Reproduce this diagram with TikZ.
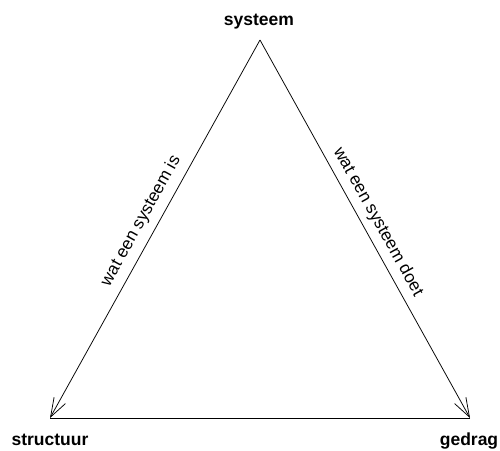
\documentclass[tikz,border=0pt]{standalone}
\usepackage{fontspec}
\setmainfont{Liberation Sans}
\usetikzlibrary{arrows.meta}
\begin{document}
\begin{tikzpicture}[x=1pt,y=-1pt,
  vlabel/.style={font=\fontsize{17.5}{20}\selectfont\bfseries, inner sep=0pt, anchor=base},
  elabel/.style={font=\fontsize{17.2}{20}\selectfont, inner sep=0pt},
  side/.style={line width=0.75pt},
  arr/.style={side, -{Straight Barb[length=19pt,width=13pt,line width=0.75pt]}}]
\useasboundingbox (0,0) rectangle (500,450);
\coordinate (top) at (260,40);
\coordinate (bl) at (50,418);
\coordinate (br) at (470,418);
\node[vlabel] (sys) at (259,25) {systeem};
\node[vlabel] (str) at (50,445) {structuur};
\node[vlabel] (ged) at (469,445) {gedrag};
\draw[arr] (top) -- (bl);
\draw[arr] (top) -- (br);
\draw[side] (bl) -- (br);
\node[elabel, rotate=60.9] (is) at (141,221) {wat een systeem is};
\node[elabel, rotate=-60.9] (doet) at (378,222) {wat een systeem doet};
\end{tikzpicture}
\end{document}
